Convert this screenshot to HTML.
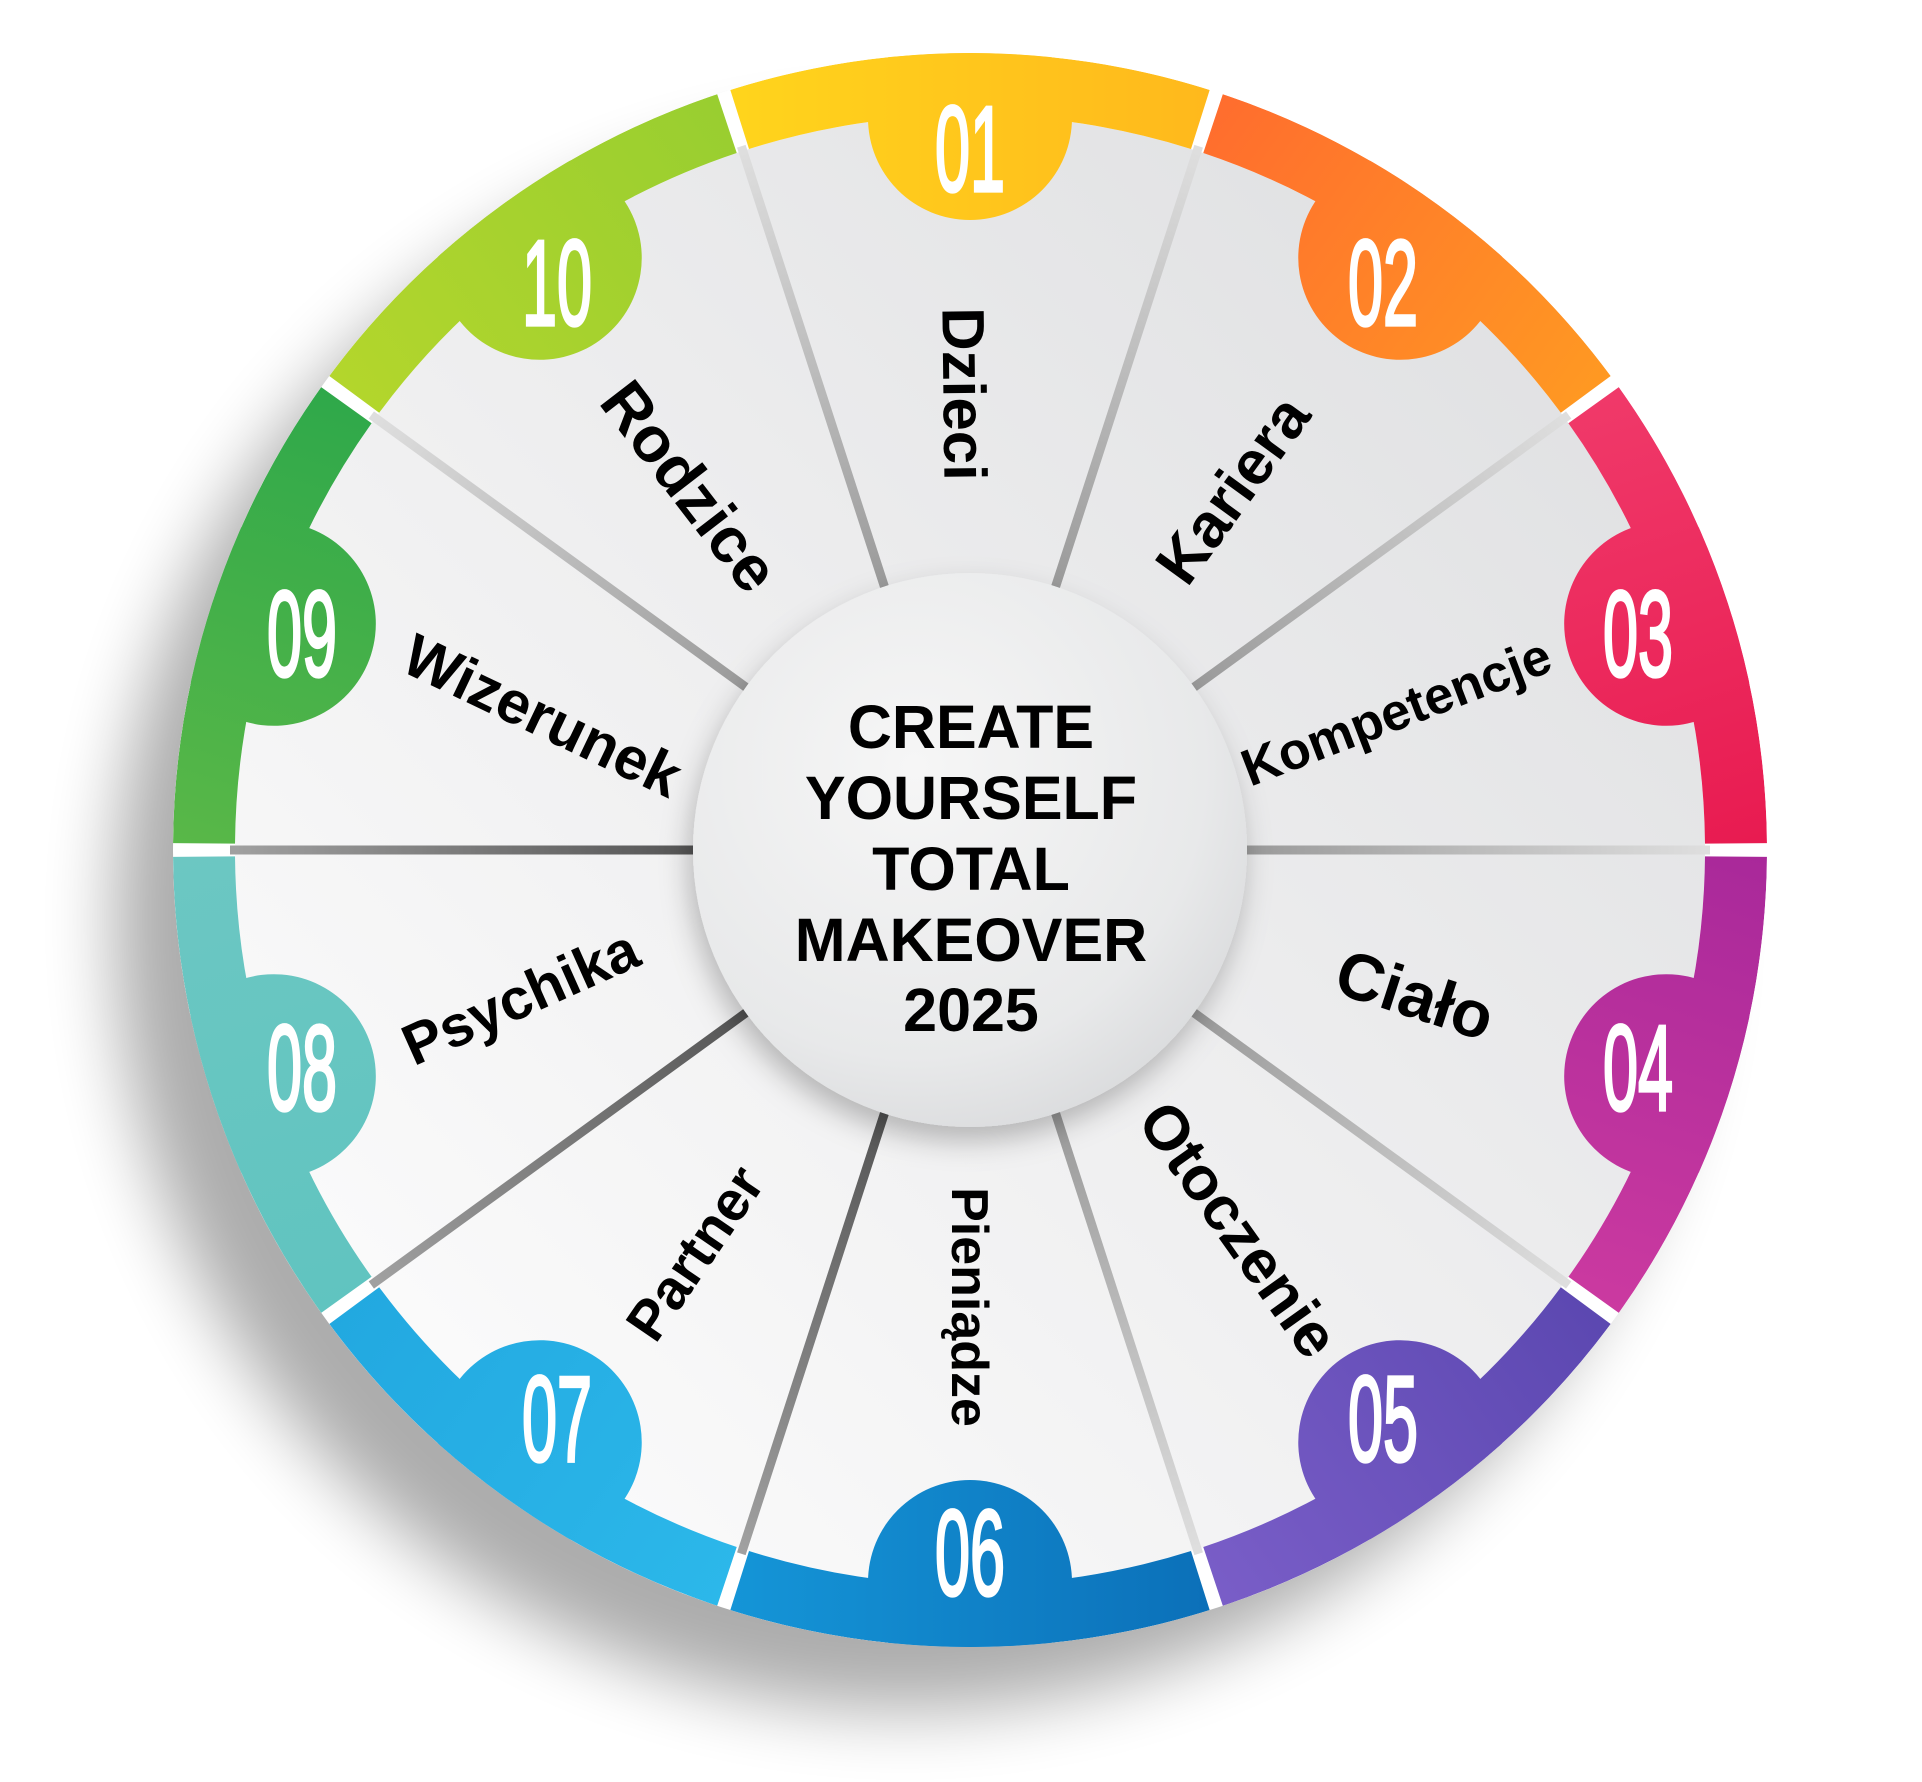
<!DOCTYPE html>
<html><head><meta charset="utf-8"><style>
html,body{margin:0;padding:0;background:#fff;}
svg{display:block;}
.lb{font-family:"Liberation Sans",Arial,sans-serif;font-weight:bold;fill:#000;text-anchor:middle;}
.nm{font-family:"Liberation Sans",Arial,sans-serif;fill:#fff;stroke:#fff;stroke-width:2.5;text-anchor:middle;font-size:90px;}
</style></head><body>
<svg width="1922" height="1782" viewBox="0 0 1922 1782" xmlns="http://www.w3.org/2000/svg">
<defs>
<clipPath id="oc" clipPathUnits="userSpaceOnUse"><circle cx="0" cy="0" r="797"/></clipPath>
<filter id="blur" x="-30%" y="-30%" width="160%" height="160%"><feGaussianBlur stdDeviation="35"/></filter>
<filter id="cs" x="-30%" y="-30%" width="160%" height="160%"><feDropShadow dx="-4" dy="14" stdDeviation="14" flood-color="#000" flood-opacity="0.25"/></filter>
<linearGradient id="wf" x1="1" y1="0" x2="0" y2="1"><stop offset="0" stop-color="#dcdddf"/><stop offset="0.5" stop-color="#eeeeef"/><stop offset="1" stop-color="#ffffff"/></linearGradient>
<radialGradient id="cg" cx="0.4" cy="0.35" r="0.75"><stop offset="0" stop-color="#f6f6f6"/><stop offset="0.7" stop-color="#e8e9ea"/><stop offset="1" stop-color="#d6d7d9"/></radialGradient>
<linearGradient id="g1" gradientUnits="userSpaceOnUse" x1="-250" y1="0" x2="250" y2="0"><stop offset="0" stop-color="#ffd51c"/><stop offset="1" stop-color="#ffb81c"/></linearGradient>
<linearGradient id="g2" gradientUnits="userSpaceOnUse" x1="-250" y1="0" x2="250" y2="0"><stop offset="0" stop-color="#ff6c2e"/><stop offset="1" stop-color="#ff9a22"/></linearGradient>
<linearGradient id="g3" gradientUnits="userSpaceOnUse" x1="-250" y1="0" x2="250" y2="0"><stop offset="0" stop-color="#f03a6a"/><stop offset="1" stop-color="#e81a50"/></linearGradient>
<linearGradient id="g4" gradientUnits="userSpaceOnUse" x1="-250" y1="0" x2="250" y2="0"><stop offset="0" stop-color="#a8289a"/><stop offset="1" stop-color="#cc3aa0"/></linearGradient>
<linearGradient id="g5" gradientUnits="userSpaceOnUse" x1="-250" y1="0" x2="250" y2="0"><stop offset="0" stop-color="#5b47b0"/><stop offset="1" stop-color="#7a5ec8"/></linearGradient>
<linearGradient id="g6" gradientUnits="userSpaceOnUse" x1="-250" y1="0" x2="250" y2="0"><stop offset="0" stop-color="#0b6fb8"/><stop offset="1" stop-color="#1596d8"/></linearGradient>
<linearGradient id="g7" gradientUnits="userSpaceOnUse" x1="-250" y1="0" x2="250" y2="0"><stop offset="0" stop-color="#2cb8ea"/><stop offset="1" stop-color="#22a8e0"/></linearGradient>
<linearGradient id="g8" gradientUnits="userSpaceOnUse" x1="-250" y1="0" x2="250" y2="0"><stop offset="0" stop-color="#60c4c0"/><stop offset="1" stop-color="#6cc7c2"/></linearGradient>
<linearGradient id="g9" gradientUnits="userSpaceOnUse" x1="-250" y1="0" x2="250" y2="0"><stop offset="0" stop-color="#5ab848"/><stop offset="1" stop-color="#2ea84a"/></linearGradient>
<linearGradient id="g10" gradientUnits="userSpaceOnUse" x1="-250" y1="0" x2="250" y2="0"><stop offset="0" stop-color="#b4d62c"/><stop offset="1" stop-color="#98ce30"/></linearGradient>
<linearGradient id="ln" gradientUnits="userSpaceOnUse" x1="277" y1="0" x2="735" y2="0"><stop offset="0" stop-color="#9a9a9a"/><stop offset="1" stop-color="#dedede"/></linearGradient>
<linearGradient id="lnd" gradientUnits="userSpaceOnUse" x1="277" y1="0" x2="735" y2="0"><stop offset="0" stop-color="#555"/><stop offset="1" stop-color="#a0a0a0"/></linearGradient>
<path id="seg" d="M-239.7,-760.1 A797,797 0 0 1 239.7,-760.1 L221,-701 A735,735 0 0 0 -221,-701 Z"/>
</defs>

<circle cx="905" cy="920" r="790" fill="#000" opacity="0.32" filter="url(#blur)"/>
<circle cx="970" cy="850" r="797" fill="#fff"/>
<circle cx="970" cy="850" r="735" fill="url(#wf)"/>

<g transform="translate(970,850)">
  <g stroke-width="9">
    <line x1="277" y1="0" x2="740" y2="0" stroke="url(#ln)" transform="rotate(-108)"/>
    <line x1="277" y1="0" x2="740" y2="0" stroke="url(#ln)" transform="rotate(-72)"/>
    <line x1="277" y1="0" x2="740" y2="0" stroke="url(#ln)" transform="rotate(-36)"/>
    <line x1="277" y1="0" x2="740" y2="0" stroke="url(#ln)" transform="rotate(0)"/>
    <line x1="277" y1="0" x2="740" y2="0" stroke="url(#ln)" transform="rotate(36)"/>
    <line x1="277" y1="0" x2="740" y2="0" stroke="url(#ln)" transform="rotate(72)"/>
    <line x1="277" y1="0" x2="740" y2="0" stroke="url(#lnd)" transform="rotate(108)"/>
    <line x1="277" y1="0" x2="740" y2="0" stroke="url(#lnd)" transform="rotate(144)"/>
    <line x1="277" y1="0" x2="740" y2="0" stroke="url(#lnd)" transform="rotate(180)"/>
    <line x1="277" y1="0" x2="740" y2="0" stroke="url(#ln)" transform="rotate(216)"/>
  </g>
  <g transform="rotate(0)" clip-path="url(#oc)"><use href="#seg" fill="url(#g1)"/><circle cx="0" cy="-732" r="102" fill="url(#g1)"/></g>
  <g transform="rotate(36)" clip-path="url(#oc)"><use href="#seg" fill="url(#g2)"/><circle cx="0" cy="-732" r="102" fill="url(#g2)"/></g>
  <g transform="rotate(72)" clip-path="url(#oc)"><use href="#seg" fill="url(#g3)"/><circle cx="0" cy="-732" r="102" fill="url(#g3)"/></g>
  <g transform="rotate(108)" clip-path="url(#oc)"><use href="#seg" fill="url(#g4)"/><circle cx="0" cy="-732" r="102" fill="url(#g4)"/></g>
  <g transform="rotate(144)" clip-path="url(#oc)"><use href="#seg" fill="url(#g5)"/><circle cx="0" cy="-732" r="102" fill="url(#g5)"/></g>
  <g transform="rotate(180)" clip-path="url(#oc)"><use href="#seg" fill="url(#g6)"/><circle cx="0" cy="-732" r="102" fill="url(#g6)"/></g>
  <g transform="rotate(216)" clip-path="url(#oc)"><use href="#seg" fill="url(#g7)"/><circle cx="0" cy="-732" r="102" fill="url(#g7)"/></g>
  <g transform="rotate(252)" clip-path="url(#oc)"><use href="#seg" fill="url(#g8)"/><circle cx="0" cy="-732" r="102" fill="url(#g8)"/></g>
  <g transform="rotate(288)" clip-path="url(#oc)"><use href="#seg" fill="url(#g9)"/><circle cx="0" cy="-732" r="102" fill="url(#g9)"/></g>
  <g transform="rotate(324)" clip-path="url(#oc)"><use href="#seg" fill="url(#g10)"/><circle cx="0" cy="-732" r="102" fill="url(#g10)"/></g>

  <g transform="rotate(-90.7) translate(456,0) rotate(180)"><text class="lb" font-size="60" y="21">Dzieci</text></g>
  <g transform="rotate(-54) translate(446,0)"><text class="lb" font-size="62" y="22">Kariera</text></g>
  <g transform="rotate(-18) translate(448,0) rotate(-3)"><text class="lb" font-size="52" y="18">Kompetencje</text></g>
  <g transform="rotate(18) translate(468,0)"><text class="lb" font-size="66" y="23">Ciało</text></g>
  <g transform="rotate(54.6) translate(465,0)"><text class="lb" font-size="62" y="22">Otoczenie</text></g>
  <g transform="rotate(90) translate(457,0)"><text class="lb" font-size="52" y="18">Pieniądze</text></g>
  <g transform="rotate(124.4) translate(488,0) rotate(180)"><text class="lb" font-size="56" y="20">Partner</text></g>
  <g transform="rotate(161.9) translate(473,0) rotate(180) rotate(-6)"><text class="lb" font-size="58" y="20">Psychika</text></g>
  <g transform="rotate(197.5) translate(448,0) rotate(180) rotate(8)"><text class="lb" font-size="60" y="21">Wizerunek</text></g>
  <g transform="rotate(-127.6) translate(459,0) rotate(180)"><text class="lb" font-size="64" y="22">Rodzice</text></g>

  <circle cx="0" cy="0" r="277" fill="url(#cg)" filter="url(#cs)"/>
</g>

<g>
  <text transform="translate(970,148) scale(0.7,1.35)" y="32" class="nm">01</text>
  <text transform="translate(1383,282) scale(0.7,1.35)" y="32" class="nm">02</text>
  <text transform="translate(1638,633) scale(0.7,1.35)" y="32" class="nm">03</text>
  <text transform="translate(1638,1067) scale(0.7,1.35)" y="32" class="nm">04</text>
  <text transform="translate(1383,1418) scale(0.7,1.35)" y="32" class="nm">05</text>
  <text transform="translate(970,1552) scale(0.7,1.35)" y="32" class="nm">06</text>
  <text transform="translate(557,1418) scale(0.7,1.35)" y="32" class="nm">07</text>
  <text transform="translate(302,1067) scale(0.7,1.35)" y="32" class="nm">08</text>
  <text transform="translate(302,633) scale(0.7,1.35)" y="32" class="nm">09</text>
  <text transform="translate(557,282) scale(0.7,1.35)" y="32" class="nm">10</text>
</g>

<g class="lb" font-size="61">
  <text x="971" y="748">CREATE</text>
  <text x="971" y="819">YOURSELF</text>
  <text x="971" y="890">TOTAL</text>
  <text x="971" y="961">MAKEOVER</text>
  <text x="971" y="1031">2025</text>
</g>
</svg>
</body></html>
